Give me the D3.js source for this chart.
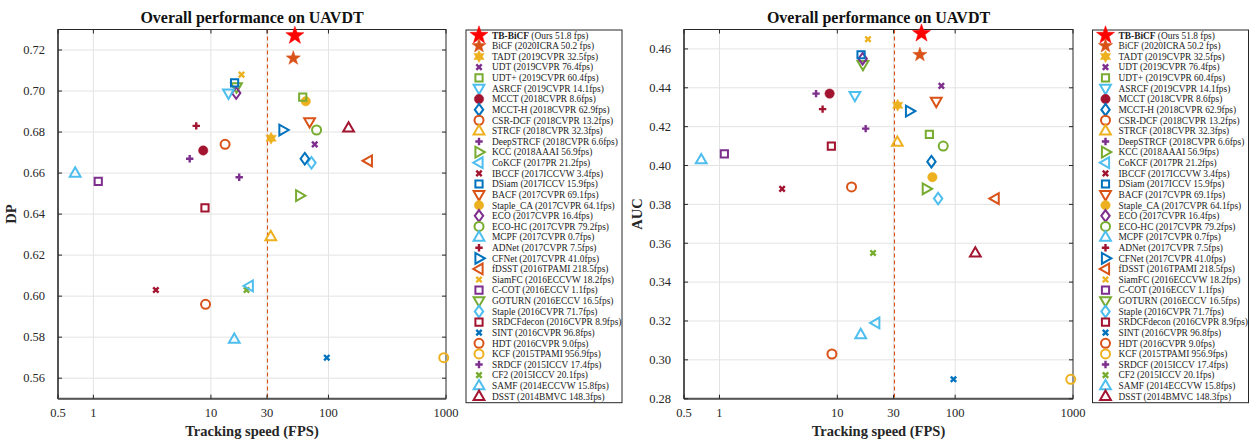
<!DOCTYPE html>
<meta charset="utf-8">
<script src="https://d3js.org/d3.v7.min.js"></script>
<style>
  body { margin: 0; background: #fff; }
  svg { font-family: "Liberation Serif", "Times New Roman", serif; }
  .tick-label { font-size: 12.5px; fill: #262626; }
  .grid line { stroke: #e3e3e3; stroke-width: 1; }
  .legend-text { font-size: 9.4px; fill: #222; }
</style>
<body>
<div id="chart"></div>
<script>
// ---- data ----
var trackers = ["TB-BiCF", "BiCF", "TADT", "UDT", "UDT+", "ASRCF", "MCCT", "MCCT-H", "CSR-DCF", "STRCF",
  "DeepSTRCF", "KCC", "CoKCF", "IBCCF", "DSiam", "BACF", "Staple_CA", "ECO", "ECO-HC", "MCPF",
  "ADNet", "CFNet", "fDSST", "SiamFC", "C-COT", "GOTURN", "Staple", "SRDCFdecon", "SINT", "HDT",
  "KCF", "SRDCF", "CF2", "SAMF", "DSST"];
var venues = ["(Ours 51.8 fps)", "(2020ICRA 50.2 fps)", "(2019CVPR 32.5fps)", "(2019CVPR 76.4fps)",
  "(2019CVPR 60.4fps)", "(2019CVPR 14.1fps)", "(2018CVPR 8.6fps)", "(2018CVPR 62.9fps)",
  "(2018CVPR 13.2fps)", "(2018CVPR 32.3fps)", "(2018CVPR 6.6fps)", "(2018AAAI 56.9fps)",
  "(2017PR 21.2fps)", "(2017ICCVW 3.4fps)", "(2017ICCV 15.9fps)", "(2017CVPR 69.1fps)",
  "(2017CVPR 64.1fps)", "(2017CVPR 16.4fps)", "(2017CVPR 79.2fps)", "(2017CVPR 0.7fps)",
  "(2017CVPR 7.5fps)", "(2017CVPR 41.0fps)", "(2016TPAMI 218.5fps)", "(2016ECCVW 18.2fps)",
  "(2016ECCV 1.1fps)", "(2016ECCV 16.5fps)", "(2016CVPR 71.7fps)", "(2016CVPR 8.9fps)",
  "(2016CVPR 96.8fps)", "(2016CVPR 9.0fps)", "(2015TPAMI 956.9fps)", "(2015ICCV 17.4fps)",
  "(2015ICCV 20.1fps)", "(2014ECCVW 15.8fps)", "(2014BMVC 148.3fps)"];
var fps = [51.8, 50.2, 32.5, 76.4, 60.4, 14.1, 8.6, 62.9, 13.2, 32.3,
  6.6, 56.9, 21.2, 3.4, 15.9, 69.1, 64.1, 16.4, 79.2, 0.7,
  7.5, 41.0, 218.5, 18.2, 1.1, 16.5, 71.7, 8.9, 96.8, 9.0,
  956.9, 17.4, 20.1, 15.8, 148.3];
var dp = [0.727, 0.716, 0.677, 0.674, 0.697, 0.699, 0.671, 0.667, 0.674, 0.629,
  0.667, 0.649, 0.605, 0.603, 0.704, 0.685, 0.695, 0.699, 0.681, 0.660,
  0.683, 0.681, 0.666, 0.708, 0.656, 0.702, 0.665, 0.643, 0.570, 0.596,
  0.570, 0.658, 0.603, 0.579, 0.682];
var auc = [0.468, 0.457, 0.431, 0.441, 0.416, 0.436, 0.437, 0.402, 0.389, 0.412,
  0.437, 0.388, 0.319, 0.388, 0.457, 0.433, 0.394, 0.455, 0.410, 0.403,
  0.429, 0.428, 0.383, 0.465, 0.406, 0.452, 0.383, 0.410, 0.290, 0.303,
  0.290, 0.419, 0.355, 0.313, 0.355];
var colours = ["#FF0000", "#D95319", "#EDB120", "#7E2F8E", "#77AC30", "#4DBEEE", "#A2142F", "#0072BD", "#D95319", "#EDB120",
  "#7E2F8E", "#77AC30", "#4DBEEE", "#A2142F", "#0072BD", "#D95319", "#EDB120", "#7E2F8E", "#77AC30", "#4DBEEE",
  "#A2142F", "#0072BD", "#D95319", "#EDB120", "#7E2F8E", "#77AC30", "#4DBEEE", "#A2142F", "#0072BD", "#D95319",
  "#EDB120", "#7E2F8E", "#77AC30", "#4DBEEE", "#A2142F"];
var shapes = ["bigstar", "star", "hexagram", "x", "square", "down", "dot", "diamond", "circle", "up",
  "plus", "right", "left", "x", "square", "down", "dot", "diamond", "circle", "up",
  "plus", "right", "left", "x", "square", "down", "diamond", "square", "x", "circle",
  "circle", "plus", "x", "up", "up"];

var xTicks = [0.5, 1, 10, 30, 100, 1000];
var xGrid = [1, 10, 30, 100];
var dpTicks = [0.56, 0.58, 0.60, 0.62, 0.64, 0.66, 0.68, 0.70, 0.72];
var aucTicks = [0.28, 0.30, 0.32, 0.34, 0.36, 0.38, 0.40, 0.42, 0.44, 0.46];

// ---- marker drawing ----
// filled shapes get fill, others are outlined with a thick stroke
function markerPath(shape) {
    var p = d3.path();
    function poly(pts) {
        pts.forEach(function (q, i) { i === 0 ? p.moveTo(q[0], q[1]) : p.lineTo(q[0], q[1]); });
        p.closePath();
    }
    function starPts(n, ro, ri) {
        var pts = [];
        for (var i = 0; i < 2 * n; i++) {
            var a = -Math.PI / 2 + i * Math.PI / n, r = i % 2 ? ri : ro;
            pts.push([r * Math.cos(a), r * Math.sin(a)]);
        }
        return pts;
    }
    switch (shape) {
        case "bigstar": poly(starPts(5, 9.5, 3.8)); break;
        case "star": poly(starPts(5, 7.5, 3.0)); break;
        case "hexagram": poly(starPts(6, 6, 3.4)); break;
        case "up": poly([[0, -5.8], [5.4, 3.6], [-5.4, 3.6]]); break;
        case "down": poly([[0, 5.8], [5.4, -3.6], [-5.4, -3.6]]); break;
        case "right": poly([[5.8, 0], [-3.6, 5.4], [-3.6, -5.4]]); break;
        case "left": poly([[-5.8, 0], [3.6, 5.4], [3.6, -5.4]]); break;
        case "diamond": poly([[0, -5.8], [4.2, 0], [0, 5.8], [-4.2, 0]]); break;
        case "square": poly([[-3.6, -3.6], [3.6, -3.6], [3.6, 3.6], [-3.6, 3.6]]); break;
        case "circle": p.moveTo(4.5, 0); p.arc(0, 0, 4.5, 0, 2 * Math.PI); break;
        case "dot": p.moveTo(4.7, 0); p.arc(0, 0, 4.7, 0, 2 * Math.PI); break;
        case "x": p.moveTo(-2.7, -2.7); p.lineTo(2.7, 2.7); p.moveTo(2.7, -2.7); p.lineTo(-2.7, 2.7); break;
        case "plus": p.moveTo(-3.7, 0); p.lineTo(3.7, 0); p.moveTo(0, -3.7); p.lineTo(0, 3.7); break;
    }
    return p.toString();
}

function isFilled(shape) {
    return shape === "bigstar" || shape === "star" || shape === "hexagram" || shape === "dot";
}

function drawMarker(g, shape, colour) {
    var filled = isFilled(shape);
    var w = (shape === "x" || shape === "plus") ? 2.4 : 2;
    g.append("path")
        .attr("d", markerPath(shape))
        .attr("fill", filled ? colour : "none")
        .attr("stroke", colour)
        .attr("stroke-width", filled ? 0.5 : w)
        .attr("stroke-linejoin", "miter");
}

var W = 1249, H = 441;
var svg = d3.select("#chart").append("svg").attr("width", W).attr("height", H);

// ---- one panel ----
function panel(opts) {
    var left = opts.left, right = opts.right, top = 29.5, bottom = 398.7;
    var x = d3.scaleLog().domain([0.5, 1000]).range([left, right]);
    var y = d3.scaleLinear().domain(opts.domain).range([bottom, top]);
    var g = svg.append("g");

    // grid
    var grid = g.append("g").attr("class", "grid");
    grid.selectAll("line.h").data(opts.ticks).join("line")
        .attr("x1", left).attr("x2", right)
        .attr("y1", d => y(d)).attr("y2", d => y(d));
    grid.selectAll("line.v").data(xGrid).join("line")
        .attr("y1", top).attr("y2", bottom)
        .attr("x1", d => x(d)).attr("x2", d => x(d));

    // 30 fps real-time line
    var x30 = Math.round(x(30)) + 0.5;
    g.append("line")
        .attr("x1", x30).attr("x2", x30).attr("y1", top).attr("y2", bottom)
        .attr("stroke", "#D95319").attr("stroke-width", 1.1)
        .attr("stroke-dasharray", "4,3");

    // box + inward ticks
    var ax = g.append("g");
    ax.append("rect").attr("x", left).attr("y", top)
        .attr("width", right - left).attr("height", bottom - top)
        .attr("fill", "none").attr("stroke", "#262626").attr("stroke-width", 1);
    ax.append("line").attr("x1", left).attr("x2", left).attr("y1", top).attr("y2", bottom)
        .attr("stroke", "#555").attr("stroke-width", 2);
    ax.append("line").attr("x1", left).attr("x2", right).attr("y1", bottom).attr("y2", bottom)
        .attr("stroke", "#555").attr("stroke-width", 2);

    var tl = 4;
    xTicks.forEach(function (t) {
        ax.append("line").attr("x1", x(t)).attr("x2", x(t)).attr("y1", bottom).attr("y2", bottom - tl).attr("stroke", "#262626");
        ax.append("line").attr("x1", x(t)).attr("x2", x(t)).attr("y1", top).attr("y2", top + tl).attr("stroke", "#262626");
        ax.append("text").attr("class", "tick-label")
            .attr("x", x(t)).attr("y", bottom + 18.5)
            .attr("text-anchor", "middle").text(t);
    });
    opts.ticks.forEach(function (t) {
        ax.append("line").attr("x1", left).attr("x2", left + tl).attr("y1", y(t)).attr("y2", y(t)).attr("stroke", "#262626");
        ax.append("line").attr("x1", right).attr("x2", right - tl).attr("y1", y(t)).attr("y2", y(t)).attr("stroke", "#262626");
        ax.append("text").attr("class", "tick-label")
            .attr("x", left - 13).attr("y", y(t) + 4.3)
            .attr("text-anchor", "end").text(d3.format(".2f")(t));
    });

    // labels
    g.append("text").attr("x", (left + right) / 2).attr("y", 23)
        .attr("text-anchor", "middle").attr("font-weight", "bold").attr("font-size", "16px")
        .attr("fill", "#111").text("Overall performance on UAVDT");
    g.append("text").attr("x", (left + right) / 2).attr("y", 436)
        .attr("text-anchor", "middle").attr("font-weight", "bold").attr("font-size", "14.5px")
        .attr("fill", "#262626").text("Tracking speed (FPS)");
    g.append("text")
        .attr("transform", "translate(" + (left + opts.ylabelDx) + "," + ((top + bottom) / 2) + ") rotate(-90)")
        .attr("text-anchor", "middle").attr("font-weight", "bold").attr("font-size", "14.5px")
        .attr("fill", "#262626").text(opts.ylabel);

    // points, drawn from the last tracker to the first so ours ends on top
    var order = d3.range(trackers.length).reverse();
    order.forEach(function (i) {
        var m = g.append("g").attr("transform", "translate(" + x(fps[i]) + "," + y(opts.values[i]) + ")");
        drawMarker(m, shapes[i], colours[i]);
    });

    // legend
    var lg = g.append("g");
    lg.append("rect").attr("x", opts.legendX).attr("y", 30)
        .attr("width", 156).attr("height", 372.7)
        .attr("fill", "#fff").attr("stroke", "#262626").attr("stroke-width", 1);
    trackers.forEach(function (name, i) {
        var ry = 35.3 + i * 10.62;
        var m = lg.append("g").attr("transform", "translate(" + (opts.legendX + 13) + "," + ry + ")");
        drawMarker(m, shapes[i], colours[i]);
        var t = lg.append("text").attr("class", "legend-text")
            .attr("x", opts.legendX + 26).attr("y", ry + 3.3);
        t.append("tspan").attr("font-weight", i === 0 ? "bold" : "normal").text(name);
        t.append("tspan").text(" " + venues[i]);
    });
}

panel({ left: 58, right: 446, domain: [0.55, 0.73], ticks: dpTicks, values: dp, ylabel: "DP", ylabelDx: -42, legendX: 466 });
panel({ left: 684, right: 1073, domain: [0.28, 0.47], ticks: aucTicks, values: auc, ylabel: "AUC", ylabelDx: -42, legendX: 1092.5 });
</script>
</body>
